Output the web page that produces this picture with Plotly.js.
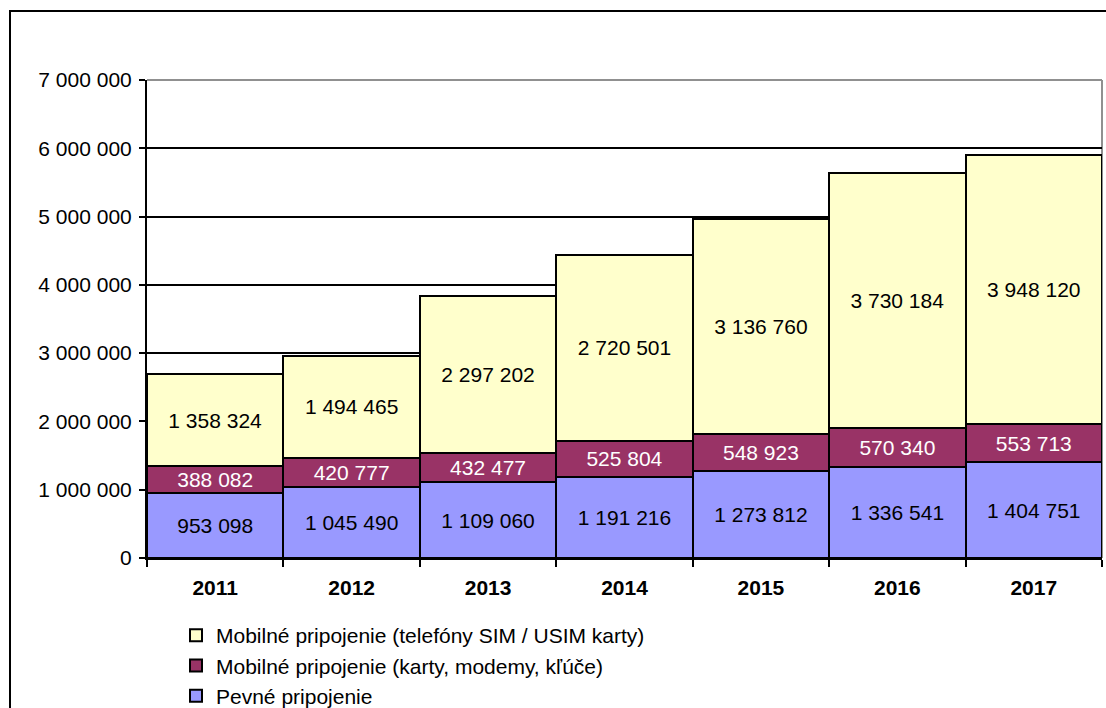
<!DOCTYPE html>
<html>
<head>
<meta charset="utf-8">
<script src="https://cdn.plot.ly/plotly-3.0.1.min.js"></script>
<style>html,body{margin:0;padding:0;background:#fff;}#chart{width:1106px;height:708px;}</style>
</head>
<body>
<div id="chart"></div>
<script>
const years = ['2011','2012','2013','2014','2015','2016','2017'];
const fixedConn = [953098, 1045490, 1109060, 1191216, 1273812, 1336541, 1404751];
const mobileCards = [388082, 420777, 432477, 525804, 548923, 570340, 553713];
const mobileSim = [1358324, 1494465, 2297202, 2720501, 3136760, 3730184, 3948120];
const seriesNames = ['Pevné pripojenie', 'Mobilné pripojenie (karty, modemy, kľúče)', 'Mobilné pripojenie (telefóny SIM / USIM karty)'];

const FONT = 'Liberation Sans, Arial, sans-serif';
function barTrace(vals, name, color, txtColor) {
  return {
    type: 'bar', x: years, y: vals, name: name,
    marker: {color: color, line: {color: '#000', width: 2}},
    texttemplate: '%{y:,d}', textposition: 'inside', insidetextanchor: 'middle',
    textangle: 0, constraintext: 'none',
    textfont: {family: FONT, size: 21, color: txtColor},
    hoverinfo: 'skip'
  };
}
const data = [
  barTrace(fixedConn, seriesNames[0], '#9999FF', '#000'),
  barTrace(mobileCards, seriesNames[1], '#993366', '#fff'),
  barTrace(mobileSim, seriesNames[2], '#FFFFCC', '#000')
];
const layout = {
  width: 1106, height: 708,
  margin: {l: 147, r: 4, t: 80, b: 150, autoexpand: false},
  paper_bgcolor: '#fff', plot_bgcolor: '#fff',
  separators: ', ',
  barmode: 'stack', bargap: 0,
  font: {family: FONT, size: 21, color: '#000'},
  showlegend: true,
  legend: {
    x: (176-147)/955, y: (558-615)/478, xanchor: 'left', yanchor: 'top',
    traceorder: 'reversed',
    font: {family: FONT, size: 21, color: '#000'},
    bgcolor: 'rgba(0,0,0,0)'
  },
  xaxis: {
    type: 'category', showline: true, linecolor: '#000', linewidth: 2,
    ticks: 'outside', tickson: 'boundaries', ticklen: 7, tickwidth: 2, tickcolor: '#000',
    tickfont: {family: FONT, size: 21, weight: 'bold'}, ticklabelstandoff: 10,
    showgrid: false, zeroline: false, fixedrange: true
  },
  yaxis: {
    range: [0, 7000000], dtick: 1000000, tickformat: ',d',
    showline: true, linecolor: '#000', linewidth: 2,
    ticks: 'outside', ticklen: 6, tickwidth: 2, tickcolor: '#000',
    showgrid: true, gridcolor: '#000', gridwidth: 2,
    zeroline: false, tickfont: {family: FONT, size: 21}, ticklabelstandoff: 3,
    fixedrange: true
  },
  shapes: [
    {type: 'line', xref: 'paper', yref: 'paper', x0: 0, x1: 1, y0: 1, y1: 1, line: {color: '#909090', width: 2}, layer: 'above'},
    {type: 'line', xref: 'paper', yref: 'paper', x0: 1, x1: 1, y0: 0, y1: 1, line: {color: '#909090', width: 2}, layer: 'below'},
    {type: 'rect', xref: 'paper', yref: 'paper', x0: (10-147)/955, x1: (1112-147)/955, y0: (558-730)/478, y1: (558-11)/478, line: {color: '#000', width: 2}, fillcolor: 'rgba(0,0,0,0)', layer: 'above'}
  ]
};
Plotly.newPlot('chart', data, layout, {displayModeBar: false, staticPlot: true});
</script>
</body>
</html>
